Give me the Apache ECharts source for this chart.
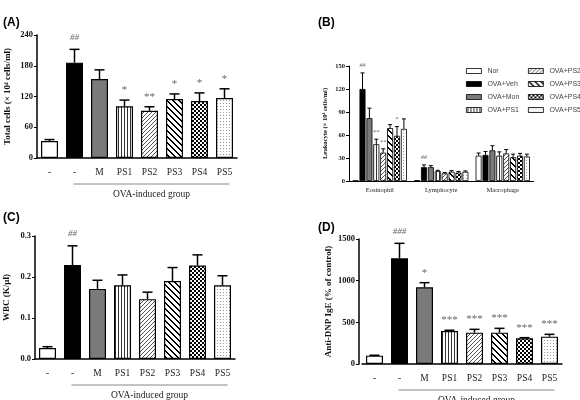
<!DOCTYPE html>
<html>
<head>
<meta charset="utf-8">
<script src="https://cdn.jsdelivr.net/npm/echarts@6/dist/echarts.min.js"></script>
<style>
  html, body { margin: 0; padding: 0; background: #fff; }
  #main { width: 580px; height: 400px; }
</style>
</head>
<body>
<div id="main"></div>
<script>
// ---- data ----
var cats = ['-', '-', 'M', 'PS1', 'PS2', 'PS3', 'PS4', 'PS5'];

// (A) total cells
var totalMean = [33, 186, 154, 101, 92, 115, 111, 117];
var totalErr = [3, 26, 18, 12, 8, 10, 16, 18];
var totalSig = ['', '##', '', '*', '**', '*', '*', '*'];

// (B) leukocytes
var leukoCats = ['Eosinophil', 'Lymphocyte', 'Macrophage'];
var groups = ['Nor', 'OVA+Veh', 'OVA+Mon', 'OVA+PS1', 'OVA+PS2', 'OVA+PS3', 'OVA+PS4', 'OVA+PS5'];
var leukoMean = [
  [0.5, 1, 33],
  [120, 18, 34],
  [82, 18, 40],
  [48, 13, 33],
  [37, 10, 36],
  [69, 12, 31],
  [59, 11, 33],
  [68, 12, 32]
];
var leukoErr = [
  [0, 0, 3.5],
  [21, 3, 4.5],
  [13, 2, 6],
  [6.5, 1, 5],
  [5, 1, 5],
  [4.5, 1.5, 4],
  [12, 1.5, 3],
  [13, 1.2, 3]
];
var leukoSig = [
  ['', '', ''],
  ['##', '##', ''],
  ['', '', ''],
  ['**', '', ''],
  ['**', '', ''],
  ['', '', ''],
  ['*', '', ''],
  ['', '', '']
];

// (C) WBC
var wbcMean = [0.027, 0.229, 0.171, 0.180, 0.146, 0.190, 0.228, 0.180];
var wbcErr = [0.003, 0.047, 0.021, 0.025, 0.017, 0.033, 0.026, 0.023];
var wbcSig = ['', '##', '', '', '', '', '', ''];

// (D) anti-DNP IgE
var igeMean = [100, 1268, 920, 396, 376, 376, 308, 328];
var igeErr = [5, 180, 56, 9, 40, 52, 8, 28];
var igeSig = ['', '###', '*', '***', '***', '***', '***', '***'];

// ---- fill patterns ----
function pat(kind) {
  var c = document.createElement('canvas');
  var n = kind == 'diag' ? 6 : (kind == 'vert' || kind == 'dots') ? 3 : 4;
  c.width = n; c.height = n;
  var g = c.getContext('2d');
  g.fillStyle = '#fff';
  g.fillRect(0, 0, n, n);
  if (kind == 'vert') {
    g.fillStyle = '#333';
    g.fillRect(1, 0, 1, n);
  } else if (kind == 'hatch') {
    g.fillStyle = '#555';
    for (var i = 0; i < n; i++) g.fillRect(n - 1 - i, i, 1, 1);
  } else if (kind == 'diag') {
    g.fillStyle = '#000';
    for (var i = 0; i < n; i++) { g.fillRect(i, i, 1, 1); g.fillRect((i + 1) % n, i, 1, 1); }
  } else if (kind == 'check') {
    g.fillStyle = '#000';
    g.fillRect(0, 0, 2, 2); g.fillRect(2, 2, 2, 2);
  } else if (kind == 'dots') {
    g.fillStyle = '#999';
    g.fillRect(1, 1, 1, 1);
  }
  return { image: c, repeat: 'repeat' };
}
var fills = ['#fff', '#000', '#7a7a7a', pat('vert'), pat('hatch'), pat('diag'), pat('check'), pat('dots')];

var serif = 'Liberation Serif';
var sans = 'Liberation Sans';

function sigFont(s, big) {
  var hash = s.charAt(0) == '#';
  if (big) return hash ? 'italic 9px ' + serif : '11px ' + serif;
  return hash ? 'italic 6px ' + serif : '7px ' + serif;
}

function xAx(idx, data, size) {
  return {
    type: 'category', gridIndex: idx, data: data,
    axisLine: { lineStyle: { color: '#000', width: idx == 1 ? 1 : 1.5 } },
    axisTick: { alignWithLabel: true, length: 3, lineStyle: { color: '#000' } },
    axisLabel: { fontFamily: serif, fontSize: size, color: '#222', margin: idx == 1 ? 6 : 9 },
    z: 5
  };
}
function yAx(idx, max, step, name, nameSize, labSize, gap, fmt, off) {
  return {
    type: 'value', gridIndex: idx, min: 0, max: max, interval: step, offset: off || 0,
    name: name, nameLocation: 'middle', nameGap: gap, nameRotate: 90,
    nameTextStyle: { fontFamily: serif, fontWeight: 'bold', fontSize: nameSize, color: '#111' },
    axisLine: { show: true, lineStyle: { color: '#000', width: idx == 1 ? 1 : 1.5 } },
    axisTick: { show: true, length: 3, lineStyle: { color: '#000' } },
    axisLabel: { fontFamily: serif, fontWeight: 'bold', fontSize: labSize, color: '#111', margin: 4, formatter: fmt || function (v) { return String(v); } },
    splitLine: { show: false }
  };
}

function barSeries(idx, mean) {
  return {
    type: 'bar', xAxisIndex: idx, yAxisIndex: idx, barWidth: 17,
    data: mean.map(function (v, i) { return { value: v, itemStyle: { color: fills[i] } }; }),
    itemStyle: { borderColor: '#000', borderWidth: 1.2 }
  };
}
function errSeries(idx, mean, err, sig) {
  return {
    type: 'custom', xAxisIndex: idx, yAxisIndex: idx, z: 10,
    data: mean.map(function (v, i) { return [i, v, err[i]]; }),
    renderItem: function (params, api) {
      var i = api.value(0), m = api.value(1), e = api.value(2);
      var p0 = api.coord([i, m]), p1 = api.coord([i, m + e]);
      var cap = 5;
      var st = { stroke: '#000', lineWidth: 1.5 };
      var s = sig[params.dataIndex];
      return {
        type: 'group', children: [
          { type: 'line', shape: { x1: p0[0], y1: p0[1], x2: p1[0], y2: p1[1] }, style: st },
          { type: 'line', shape: { x1: p1[0] - cap, y1: p1[1], x2: p1[0] + cap, y2: p1[1] }, style: st },
          { type: 'text', x: p1[0], y: p1[1] - (s.charAt(0) == '#' ? 12 : 10), style: { text: s, fill: '#666', font: sigFont(s, true), align: 'center', verticalAlign: 'middle' } }
        ]
      };
    }
  };
}

// (B) bar layout
var bW = 6, bGap = 0.15;
var seriesB = groups.map(function (g, k) {
  return {
    type: 'bar', name: g, xAxisIndex: 1, yAxisIndex: 1, barWidth: bW, barGap: (bGap * 100) + '%',
    data: leukoMean[k],
    itemStyle: { color: fills[k], borderColor: '#000', borderWidth: 0.8 }
  };
});
var errB = [];
groups.forEach(function (g, k) {
  leukoCats.forEach(function (c, j) { errB.push([j, k, leukoMean[k][j], leukoErr[k][j]]); });
});
seriesB.push({
  type: 'custom', xAxisIndex: 1, yAxisIndex: 1, z: 10, data: errB, encode: { x: 0, y: 2 },
  renderItem: function (params, api) {
    var j = api.value(0), k = api.value(1), m = api.value(2), e = api.value(3);
    var p0 = api.coord([j, m]), p1 = api.coord([j, m + e]);
    var x = p0[0] + (k - 3.5) * bW * (1 + bGap);
    var st = { stroke: '#000', lineWidth: 1 };
    var s = leukoSig[k][j];
    var kids = [{ type: 'text', x: x, y: p1[1] - 7, style: { text: s, fill: '#666', font: sigFont(s, false), align: 'center', verticalAlign: 'middle' } }];
    if (e > 0) {
      kids.push({ type: 'line', shape: { x1: x, y1: p0[1], x2: x, y2: p1[1] }, style: st });
      kids.push({ type: 'line', shape: { x1: x - 2, y1: p1[1], x2: x + 2, y2: p1[1] }, style: st });
    }
    return { type: 'group', children: kids };
  }
});

function legendCol(left, names) {
  return {
    orient: 'vertical', left: left, top: 67, data: names, icon: 'rect',
    itemWidth: 15, itemHeight: 5, itemGap: 5, padding: 0,
    textStyle: { fontFamily: sans, fontSize: 7, color: '#444', lineHeight: 8, padding: [0, 0, 0, 1] },
    itemStyle: { borderColor: '#000', borderWidth: 0.8 }
  };
}

var titleStyle = { fontFamily: sans, fontWeight: 'bold', fontSize: 12, color: '#000' };

var option = {
  animation: false,
  backgroundColor: '#fff',
  title: [
    { text: '(A)', left: -2, top: 12, textStyle: titleStyle },
    { text: '(B)', left: 313, top: 12, textStyle: titleStyle },
    { text: '(C)', left: -2, top: 207, textStyle: titleStyle },
    { text: '(D)', left: 313, top: 217, textStyle: titleStyle }
  ],
  legend: [legendCol(466, groups.slice(0, 4)), legendCol(528, groups.slice(4))],
  grid: [
    { left: 37, top: 35, width: 200, height: 123, outerBoundsMode: 'none' },
    { left: 349, top: 66, width: 184.5, height: 115, outerBoundsMode: 'none' },
    { left: 35, top: 236, width: 200, height: 123, outerBoundsMode: 'none' },
    { left: 362, top: 239, width: 200, height: 125, outerBoundsMode: 'none' }
  ],
  xAxis: [xAx(0, cats, 9.5), xAx(1, leukoCats, 6.5), xAx(2, cats, 9.5), xAx(3, cats, 9.5)],
  yAxis: [
    yAx(0, 240, 60, 'Total cells (\u00d7 10\u2074 cells/ml)', 9, 8.5, 25),
    yAx(1, 150, 30, 'Leukocyte (\u00d7 10\u2074 cells/ml)', 6.5, 6.5, 20),
    yAx(2, 0.3, 0.1, 'WBC (K/\u03bcl)', 9, 8.5, 24, function (v) { return v.toFixed(1); }),
    yAx(3, 1500, 500, 'Anti-DNP IgE (% of control)', 9, 8.5, 26, null, 3)
  ],
  series: [
    barSeries(0, totalMean), errSeries(0, totalMean, totalErr, totalSig),
    barSeries(2, wbcMean), errSeries(2, wbcMean, wbcErr, wbcSig),
    barSeries(3, igeMean), errSeries(3, igeMean, igeErr, igeSig)
  ].concat(seriesB)
};

var chart = echarts.init(document.getElementById('main'), null, { renderer: 'canvas' });
chart.setOption(option);

// "OVA-induced group" brackets under panels A, C, D
var gfx = [];
[0, 2, 3].forEach(function (k) {
  var x1 = chart.convertToPixel({ xAxisIndex: k }, 1) - 1;
  var x2 = chart.convertToPixel({ xAxisIndex: k }, 7) + 5;
  var y = chart.convertToPixel({ yAxisIndex: k }, 0) + 26;
  gfx.push({ type: 'line', shape: { x1: x1, y1: y, x2: x2, y2: y }, style: { stroke: '#888', lineWidth: 1 } });
  gfx.push({ type: 'text', x: (x1 + x2) / 2, y: y + 10, style: { text: 'OVA-induced group', font: '9.5px ' + serif, fill: '#222', align: 'center', verticalAlign: 'middle' } });
});
chart.setOption({ graphic: gfx });
</script>
</body>
</html>
